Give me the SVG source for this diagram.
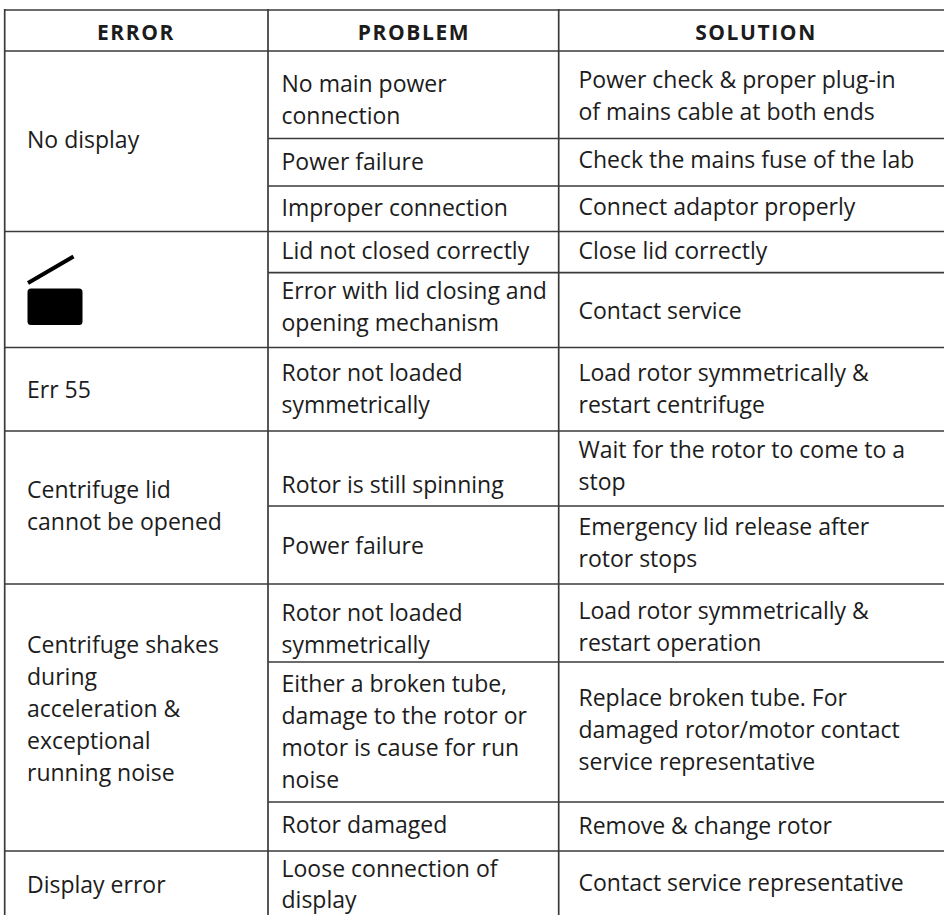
<svg xmlns="http://www.w3.org/2000/svg" width="944" height="915" viewBox="0 0 944 915">
<style>
  .g line { stroke: #3a3a3a; stroke-width: 1.7; }
  text { font-family: "Open Sans", "DejaVu Sans", sans-serif; fill: #1c1c1c; }
  .b { font-size: 23px; letter-spacing: 0px; }
  .h { font-size: 21px; font-weight: 700; letter-spacing: 1.6px; text-anchor: middle; }
</style>
<rect width="944" height="915" fill="#fff"/>
<g id="grid" class="g">
  <line x1="4" y1="10" x2="944" y2="10"/>
  <line x1="4" y1="51" x2="944" y2="51"/>
  <line x1="268" y1="138.5" x2="944" y2="138.5"/>
  <line x1="268" y1="186" x2="944" y2="186"/>
  <line x1="4" y1="231.5" x2="944" y2="231.5"/>
  <line x1="268" y1="272.7" x2="944" y2="272.7"/>
  <line x1="4" y1="347.5" x2="944" y2="347.5"/>
  <line x1="4" y1="431" x2="944" y2="431"/>
  <line x1="268" y1="506" x2="944" y2="506"/>
  <line x1="4" y1="584" x2="944" y2="584"/>
  <line x1="268" y1="662" x2="944" y2="662"/>
  <line x1="268" y1="802" x2="944" y2="802"/>
  <line x1="4" y1="851" x2="944" y2="851"/>
  <line x1="4.7" y1="9" x2="4.7" y2="915"/>
  <line x1="268" y1="9" x2="268" y2="915"/>
  <line x1="558.7" y1="9" x2="558.7" y2="915"/>
</g>
<g id="header">
  <text class="h" x="136" y="39.5">ERROR</text>
  <text class="h" x="414" y="39.5">PROBLEM</text>
  <text class="h" x="756" y="39.5">SOLUTION</text>
</g>
<g id="err-no-display">
  <text class="b" x="27" y="147.5">No display</text>
  <text class="b" x="281.5" y="92"><tspan x="281.5">No main power</tspan><tspan x="281.5" dy="32">connection</tspan></text>
  <text class="b" x="578.5" y="87.5"><tspan x="578.5">Power check &amp; proper plug-in</tspan><tspan x="578.5" dy="32">of mains cable at both ends</tspan></text>
  <text class="b" x="281.5" y="169.5">Power failure</text>
  <text class="b" x="578.5" y="167.5">Check the mains fuse of the lab</text>
  <text class="b" x="281.5" y="216">Improper connection</text>
  <text class="b" x="578.5" y="214.5">Connect adaptor properly</text>
</g>
<g id="err-lid-icon">
  <line x1="28" y1="283" x2="73.5" y2="256.5" stroke="#000" stroke-width="4"/>
  <rect x="27.5" y="288.5" width="55" height="36.5" rx="3.5" fill="#000"/>
  <text class="b" x="281.5" y="259">Lid not closed correctly</text>
  <text class="b" x="578.5" y="258.5">Close lid correctly</text>
  <text class="b" x="281.5" y="299"><tspan x="281.5">Error with lid closing and</tspan><tspan x="281.5" dy="32">opening mechanism</tspan></text>
  <text class="b" x="578.5" y="318.5">Contact service</text>
</g>
<g id="err-55">
  <text class="b" x="27" y="397.5">Err 55</text>
  <text class="b" x="281.5" y="381"><tspan x="281.5">Rotor not loaded</tspan><tspan x="281.5" dy="32">symmetrically</tspan></text>
  <text class="b" x="578.5" y="381"><tspan x="578.5">Load rotor symmetrically &amp;</tspan><tspan x="578.5" dy="32">restart centrifuge</tspan></text>
</g>
<g id="err-lid-open">
  <text class="b" x="27" y="497.5"><tspan x="27">Centrifuge lid</tspan><tspan x="27" dy="32">cannot be opened</tspan></text>
  <text class="b" x="281.5" y="493">Rotor is still spinning</text>
  <text class="b" x="578.5" y="458"><tspan x="578.5">Wait for the rotor to come to a</tspan><tspan x="578.5" dy="32">stop</tspan></text>
  <text class="b" x="281.5" y="554">Power failure</text>
  <text class="b" x="578.5" y="535"><tspan x="578.5">Emergency lid release after</tspan><tspan x="578.5" dy="32">rotor stops</tspan></text>
</g>
<g id="err-shakes">
  <text class="b" x="27" y="653"><tspan x="27">Centrifuge shakes</tspan><tspan x="27" dy="32">during</tspan><tspan x="27" dy="32">acceleration &amp;</tspan><tspan x="27" dy="32">exceptional</tspan><tspan x="27" dy="32">running noise</tspan></text>
  <text class="b" x="281.5" y="621"><tspan x="281.5">Rotor not loaded</tspan><tspan x="281.5" dy="32">symmetrically</tspan></text>
  <text class="b" x="578.5" y="619"><tspan x="578.5">Load rotor symmetrically &amp;</tspan><tspan x="578.5" dy="32">restart operation</tspan></text>
  <text class="b" x="281.5" y="692"><tspan x="281.5">Either a broken tube,</tspan><tspan x="281.5" dy="32">damage to the rotor or</tspan><tspan x="281.5" dy="32">motor is cause for run</tspan><tspan x="281.5" dy="32">noise</tspan></text>
  <text class="b" x="578.5" y="706"><tspan x="578.5">Replace broken tube. For</tspan><tspan x="578.5" dy="32">damaged rotor/motor contact</tspan><tspan x="578.5" dy="32">service representative</tspan></text>
  <text class="b" x="281.5" y="833">Rotor damaged</text>
  <text class="b" x="578.5" y="834">Remove &amp; change rotor</text>
</g>
<g id="err-display">
  <text class="b" x="27" y="892.5">Display error</text>
  <text class="b" x="281.5" y="876.5"><tspan x="281.5">Loose connection of</tspan><tspan x="281.5" dy="31">display</tspan></text>
  <text class="b" x="578.5" y="891">Contact service representative</text>
</g>
</svg>
